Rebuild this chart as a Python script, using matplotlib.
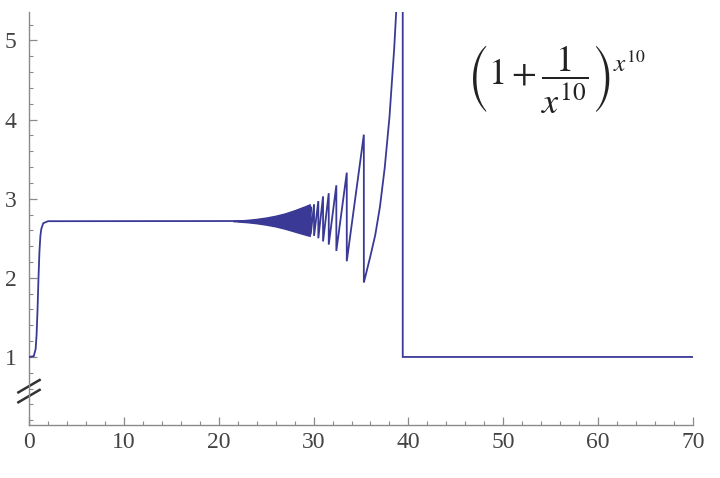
import matplotlib
matplotlib.use('Agg')
import matplotlib.pyplot as plt
from matplotlib.ticker import MultipleLocator, FixedLocator

plt.rcParams["font.family"] = "Liberation Serif"
plt.rcParams["mathtext.fontset"] = "stix"

# 起始段：x<1 时接近 1，之后迅速升到 e
rise_x = [0.0, 0.5, 0.7, 0.8, 0.9, 1.0, 1.1, 1.2, 1.3, 1.5, 2.0, 21.5]
rise_y = [1.0, 1.01, 1.10, 1.28, 1.60, 2.00, 2.33, 2.53, 2.62, 2.69, 2.716, 2.718]

# 数值误差引起的密集振荡区（上下包络）
band_x = [21.5, 22.0, 23.0, 24.0, 25.0, 26.0, 27.0, 28.0, 29.0, 29.6]
band_hi = [2.718, 2.724, 2.732, 2.745, 2.762, 2.785, 2.815, 2.855, 2.90, 2.93]
band_lo = [2.718, 2.712, 2.703, 2.69, 2.672, 2.65, 2.62, 2.585, 2.55, 2.53]

# 可分辨的锯齿：每个齿在 drop_x 处从 peak 掉到 trough
drop_x = [29.7, 30.05, 30.5, 31.0, 31.6, 32.4, 33.5, 35.3]
peak_y = [2.90, 2.93, 2.97, 3.03, 3.07, 3.17, 3.33, 3.81]
trough_y = [2.55, 2.53, 2.50, 2.46, 2.42, 2.34, 2.21, 1.94]

# 最后一段上升，在 39.4 处跌回 1
last_x = [36.0, 36.5, 37.0, 37.5, 38.0, 38.5, 39.0, 39.4]
last_y = [2.28, 2.54, 2.90, 3.39, 4.03, 4.90, 6.00, 7.39]
flat_x = [39.4, 70.0]
flat_y = [1.0, 1.0]

LINE_COLOR = '#3a3a96'
AXIS_COLOR = '#8a8a8a'


def build_curve():
    xs = list(rise_x)
    ys = list(rise_y)
    # 沿包络中线走到锯齿起点
    xs.append(band_x[-1])
    ys.append((band_hi[-1] + band_lo[-1]) / 2)
    for i in range(len(drop_x)):
        xs += [drop_x[i], drop_x[i]]
        ys += [peak_y[i], trough_y[i]]
    xs += last_x + flat_x
    ys += last_y + flat_y
    return xs, ys


def plot_curve():
    fig = plt.figure(figsize=(7.2, 4.78), dpi=100)
    ax = fig.add_axes([29 / 720, 1 - 425 / 478, 664 / 720, 413 / 478])

    xs, ys = build_curve()
    # 密集振荡区用填充表示
    ax.fill_between(band_x, band_lo, band_hi, facecolor=LINE_COLOR,
                    edgecolor=LINE_COLOR, linewidth=1.0, zorder=3)
    ax.plot(xs, ys, color=LINE_COLOR, lw=1.3, solid_joinstyle='miter', zorder=3)

    ax.set_xlim(0, 70)
    ax.set_ylim(0.14, 5.36)

    # 坐标轴样式
    for side in ['top', 'right']:
        ax.spines[side].set_visible(False)
    for side in ['left', 'bottom']:
        ax.spines[side].set_color(AXIS_COLOR)
        ax.spines[side].set_linewidth(1.0)

    ax.xaxis.set_major_locator(MultipleLocator(10))
    ax.xaxis.set_minor_locator(MultipleLocator(2))
    ax.yaxis.set_major_locator(FixedLocator([1, 2, 3, 4, 5]))
    ax.yaxis.set_minor_locator(MultipleLocator(0.2))
    ax.tick_params(which='major', direction='in', length=6, width=0.9,
                   color=AXIS_COLOR, labelcolor='#444444', labelsize=17)
    ax.tick_params(which='minor', direction='in', length=3, width=0.8,
                   color=AXIS_COLOR)
    ax.tick_params(axis='x', pad=5)
    ax.tick_params(axis='y', pad=9)

    # y 轴断裂标记
    for dy in [0.0, 0.024]:
        ax.plot([-0.016, 0.016], [0.055 + dy, 0.085 + dy], color='#333333',
                lw=1.8, transform=ax.transAxes, clip_on=False)

    # 公式
    ax.text(0.794, 0.835, r'$\left(1+\dfrac{1}{x^{10}}\right)^{x^{10}}$',
            transform=ax.transAxes, fontsize=26, ha='center', va='center',
            color='#222222')

    fig.savefig('out.png', dpi=100)
    plt.close('all')


if __name__ == "__main__":
    plot_curve()
